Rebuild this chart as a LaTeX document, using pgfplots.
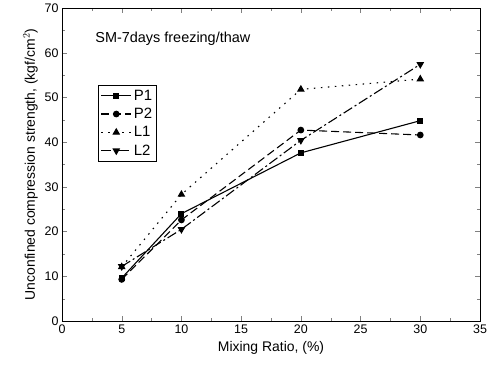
\documentclass[border=0pt]{standalone}
\usepackage{fontspec}
\setmainfont{Liberation Sans}
\usepackage{pgfplots}
\pgfplotsset{compat=1.18}
\begin{document}
\begin{tikzpicture}
\begin{axis}[
  scale only axis,
  width=418bp, height=313bp,
  xmin=0, xmax=35, ymin=0, ymax=70,
  xtick={0,5,...,35}, ytick={0,10,...,70},
  minor x tick num=1, minor y tick num=1,
  tick align=inside,
  major tick length=5bp, minor tick length=3bp,
  /pgf/number format/assume math mode=true,
  ticklabel style={font=\fontsize{12.5}{14}\selectfont},
  xlabel={Mixing Ratio, (\%)},
  ylabel={Unconfined compression strength, (kgf/cm$^2$)},
  label style={font=\fontsize{14}{16}\selectfont},
  xlabel style={yshift=-1bp},
  axis line style={line width=0.8pt},
  legend style={at={(axis cs:3,52.8)}, anchor=north west, draw=black, line width=0.8pt,
    font=\fontsize{15}{17}\selectfont, row sep=2.5bp, inner sep=2.5bp},
  legend cell align=left,
  legend image code/.code={\draw[mark repeat=2,mark phase=2] plot coordinates {(0bp,0bp) (15bp,0bp) (30bp,0bp)};},
  every axis plot/.append style={line width=1.1pt, black},
]
\addplot[solid, mark=square*, mark size=2.5bp] coordinates {(5,9.6) (10,24.0) (20,37.6) (30,44.8)};
\addlegendentry{P1}
\addplot[dash pattern=on 8bp off 4bp, mark=*, mark size=2.8bp, mark options={solid}] coordinates {(5,9.3) (10,22.6) (20,42.7) (30,41.6)};
\addlegendentry{P2}
\addplot[dash pattern=on 1.5bp off 5.5bp, mark=triangle*, mark size=3.4bp, mark options={solid}] coordinates {(5,12.1) (10,28.3) (20,51.8) (30,54.1)};
\addlegendentry{L1}
\addplot[dash pattern=on 10bp off 3bp on 2bp off 3bp, mark=triangle*, mark size=3.4bp, mark options={solid, rotate=180}] coordinates {(5,12.2) (10,20.5) (20,40.4) (30,57.4)};
\addlegendentry{L2}
\node[anchor=west, font=\fontsize{14.5}{16}\selectfont] at (axis cs:2.5,63.2) {SM-7days freezing/thaw};
\end{axis}
\pgfresetboundingbox
\path (current axis.south west) ++(-62bp,-47bp) rectangle ++(492bp,368bp);
\end{tikzpicture}
\end{document}
